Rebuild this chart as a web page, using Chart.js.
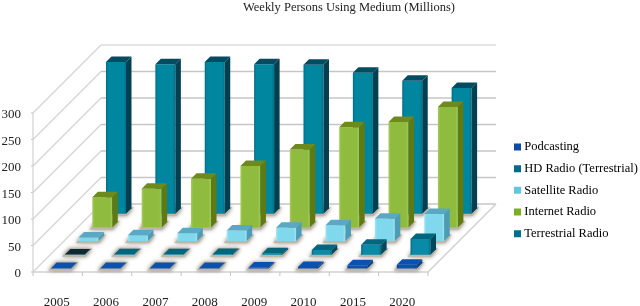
<!DOCTYPE html>
<html lang="en">
<head>
<meta charset="UTF-8">
<title>Weekly Persons Using Medium</title>
<script src="https://cdn.jsdelivr.net/npm/chart.js"></script>
<style>
  body { margin: 0; background: #fff; }
  #wrap { width: 640px; height: 306px; }
</style>
</head>
<body>
<div id="wrap"><canvas id="chart"></canvas></div>
<script>
const categories = ['2005', '2006', '2007', '2008', '2009', '2010', '2015', '2020'];
const podcasting = [1, 1, 1, 1, 2, 3, 6, 7];
const hdRadio = [0.5, 1, 1, 1.5, 3, 9, 19, 30];
const satelliteRadio = [7, 11, 15, 20, 25, 30, 42, 51];
const internetRadio = [57, 73, 92, 116, 147, 189, 199, 227];
const terrestrialRadio = [286, 282, 286, 282, 281, 266, 251, 237];

const DEPTH = 68;      // how far the back wall sits behind the front edge
const ROW_START = 3.5; // first row's distance from the front edge
const ROW_STEP = 13.7;
const BAR_DEPTH = 5.5;

function poly(ctx, pts, fill) {
  ctx.beginPath();
  pts.forEach((p, i) => i ? ctx.lineTo(p[0], p[1]) : ctx.moveTo(p[0], p[1]));
  ctx.closePath();
  ctx.fillStyle = fill;
  ctx.fill();
}

function line(ctx, pts, color, width) {
  ctx.beginPath();
  pts.forEach((p, i) => i ? ctx.lineTo(p[0], p[1]) : ctx.moveTo(p[0], p[1]));
  ctx.strokeStyle = color;
  ctx.lineWidth = width;
  ctx.stroke();
}

const box3d = {
  id: 'box3d',
  afterLayout(chart) {
    // title and legend sit away from where the layout puts them
    chart.titleBlock.left = 243;
    chart.titleBlock.right = 455;
    chart.titleBlock.top = 0.5;
    chart.titleBlock.bottom = 15.5;
    const lg = chart.legend;
    const w = lg.width, h = lg.height;
    lg.left = 507.8;
    lg.right = 507.8 + w;
    lg.top = 131.5;
    lg.bottom = 131.5 + h;
  },
  beforeDatasetsDraw(chart) {
    const ctx = chart.ctx;
    const { left, right, bottom } = chart.chartArea;
    const yScale = chart.scales.y;
    ctx.save();
    ctx.lineCap = 'butt';
    // floor
    const floor = [[left, bottom], [right, bottom], [right + DEPTH, bottom - DEPTH], [left + DEPTH, bottom - DEPTH]];
    poly(ctx, floor, '#ffffff');
    // walls
    yScale.ticks.forEach((t, i) => {
      const y = yScale.getPixelForValue(t.value);
      line(ctx, [[left, y], [left + DEPTH, y - DEPTH]], '#d6d6d6', 1.4);
      line(ctx, [[left + DEPTH, y - DEPTH], [right + DEPTH, y - DEPTH]], i === yScale.ticks.length - 1 ? '#dcdcdc' : '#c6c6c6', 1.6);
      line(ctx, [[left - 2, y], [left, y]], '#c4c4c4', 1);
    });
    line(ctx, [[left, yScale.top], [left, bottom]], '#d0d0d0', 1.2);
    line(ctx, [floor[0], floor[1], floor[2]], '#d2d2d2', 1.5);
    // ticks under the front edge
    const step = (right - left) / categories.length;
    for (let i = 0; i <= categories.length; i++) {
      line(ctx, [[left + i * step, bottom], [left + i * step, bottom + 4]], '#c4c4c4', 1);
    }
    ctx.restore();
  },
  beforeDatasetDraw(chart, args) {
    const ctx = chart.ctx;
    const ds = chart.data.datasets[args.index];
    const off = ROW_START + ROW_STEP * args.index; // podcasting is the front row
    ctx.save();
    args.meta.data.forEach((el, i) => {
      const x0 = el.x - el.width / 2 + off, x1 = el.x + el.width / 2 + off;
      const yb = el.base - off, yt = el.y - off;
      const d = BAR_DEPTH;

      // shadow on the floor
      ctx.save();
      ctx.shadowColor = 'rgba(95,85,65,0.75)';
      ctx.shadowBlur = 4;
      poly(ctx, [[x0 - 3, yb + 2], [x1 + 1, yb + 2], [x1 + d + 2, yb - d - 1], [x0 + d - 1, yb - d - 1]], '#bdb6aa');
      ctx.restore();

      // front face, edges differ a little from the middle
      const g = ctx.createLinearGradient(x0, 0, x1, 0);
      g.addColorStop(0, ds.edgeColor);
      g.addColorStop(0.12, ds.backgroundColor);
      g.addColorStop(0.88, ds.backgroundColor);
      g.addColorStop(1, ds.edgeColor);
      poly(ctx, [[x0, yb], [x1, yb], [x1, yt], [x0, yt]], g);
      // side and top
      poly(ctx, [[x1, yb], [x1 + d, yb - d], [x1 + d, yt - d], [x1, yt]], ds.sideColor);
      let top = ds.topColor;
      if (args.index === 1 && i === 0) top = '#0c2a36'; // the 2005 HD bar is nearly black
      poly(ctx, [[x0, yt], [x1, yt], [x1 + d, yt - d], [x0 + d, yt - d]], top);
    });
    ctx.restore();
    return false;
  }
};

const serif = "'Liberation Serif', serif";

new Chart(document.getElementById('chart'), {
  type: 'bar',
  plugins: [box3d],
  data: {
    labels: categories,
    datasets: [
      { label: 'Podcasting', data: podcasting, backgroundColor: '#0b52ad', edgeColor: '#0a3f8a', sideColor: '#0a3f8a', topColor: '#0b52b0', grouped: false, barThickness: 20 },
      { label: 'HD Radio (Terrestrial)', data: hdRadio, backgroundColor: '#0a8aa6', edgeColor: '#006a84', sideColor: '#00495c', topColor: '#02667f', grouped: false, barThickness: 20 },
      { label: 'Satellite Radio', data: satelliteRadio, backgroundColor: '#7fd8ec', edgeColor: '#a2e4f2', sideColor: '#4a9cb8', topColor: '#5aa8c4', grouped: false, barThickness: 20 },
      { label: 'Internet Radio', data: internetRadio, backgroundColor: '#8fbc3f', edgeColor: '#a6cb5c', sideColor: '#5f7a10', topColor: '#6e8a1c', grouped: false, barThickness: 20 },
      { label: 'Terrestrial Radio', data: terrestrialRadio, backgroundColor: '#00869f', edgeColor: '#006f8b', sideColor: '#023f50', topColor: '#024c62', grouped: false, barThickness: 20 }
    ]
  },
  options: {
    responsive: true,
    maintainAspectRatio: false,
    animation: false,
    layout: { autoPadding: false, padding: { left: 0, right: 212, top: 98, bottom: 0 } },
    scales: {
      x: {
        grid: { display: false },
        border: { display: false },
        afterFit(scale) { scale.height = 34; },
        ticks: { color: '#222', font: { family: serif, size: 13 }, padding: 15, labelOffset: -1, maxRotation: 0, autoSkip: false }
      },
      y: {
        min: 0,
        max: 300,
        grid: { display: false, drawTicks: false },
        border: { display: false },
        afterFit(scale) { scale.width = 33; },
        ticks: { stepSize: 50, color: '#222', font: { family: serif, size: 13 }, padding: 12, labelOffset: 2 }
      }
    },
    plugins: {
      tooltip: { enabled: false },
      title: {
        display: true,
        text: 'Weekly Persons Using Medium (Millions)',
        color: '#222',
        padding: 0,
        font: { family: serif, size: 12.5, weight: 'normal', lineHeight: 1.2 }
      },
      legend: {
        position: 'chartArea',
        align: 'start',
        labels: {
          usePointStyle: true,
          boxWidth: 1,
          boxHeight: 7,
          padding: 9.2,
          color: '#222',
          font: { family: serif, size: 12.5 },
          generateLabels(chart) {
            const colors = ['#0a4ba5', '#006b8a', '#5ec8e0', '#7cb020', '#00708c'];
            return chart.data.datasets.map((ds, i) => ({
              text: ds.label, fillStyle: colors[i], strokeStyle: colors[i], lineWidth: 0,
              pointStyle: 'rect', rotation: 0, datasetIndex: i, hidden: false
            }));
          }
        }
      }
    }
  }
});
</script>
</body>
</html>
